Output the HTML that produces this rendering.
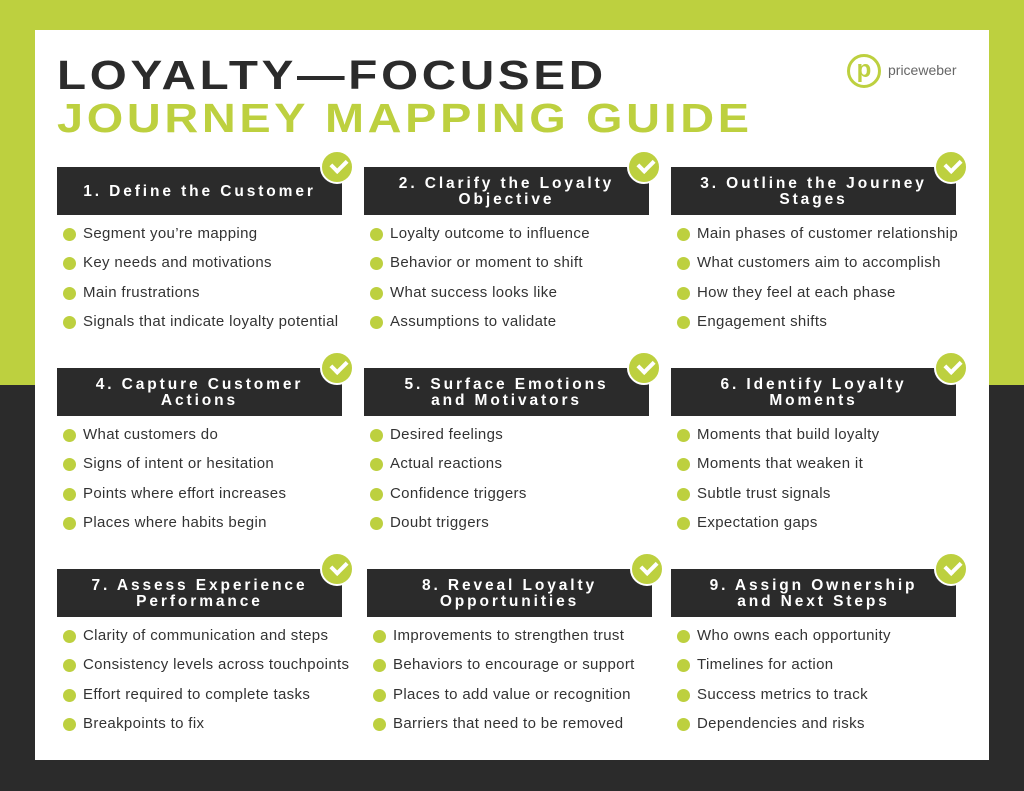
<!DOCTYPE html>
<html><head><style>
body{margin:0;width:1024px;height:791px;position:relative;overflow:hidden;font-family:"Liberation Sans",sans-serif;background:#2b2b2b}
.top{position:absolute;left:0;top:0;width:1024px;height:385px;background:#bdd03f}
.card{position:absolute;left:35px;top:30px;width:954px;height:730px;background:#fff}
.t{position:absolute;left:57px;font-weight:bold;font-size:41px;letter-spacing:3.2px;white-space:nowrap;line-height:1;transform-origin:0 0}
.h{position:absolute;width:285px;height:48px;background:#2b2b2b;color:#fff;font-weight:bold;font-size:15.5px;letter-spacing:2.9px;display:flex;align-items:center;justify-content:center;text-align:center;line-height:16px;padding-top:2px;box-sizing:border-box}
.ck{position:absolute;width:34px;height:34px;border-radius:50%;background:#bdd03f;border:2px solid #fff;box-sizing:border-box}
.ck:after{content:"";position:absolute;left:9px;top:7px;width:12px;height:7px;border-left:4px solid #fff;border-bottom:4px solid #fff;transform:rotate(-45deg)}
ul{position:absolute;margin:0;padding:0;list-style:none;font-size:15px;letter-spacing:0.35px;color:#333}
li{height:29.3px;line-height:16px;position:relative;padding-left:26px;white-space:nowrap}
li:before{content:"";position:absolute;left:6px;top:2px;width:13px;height:13px;border-radius:50%;background:#bdd03f}
</style></head><body>
<div class="top"></div>
<div class="card"></div>
<div class="t" style="top:55px;color:#2b2b2b;transform:scaleX(1.16)">LOYALTY—FOCUSED</div>
<div class="t" style="top:98px;color:#bdd03f;transform:scaleX(1.143)">JOURNEY MAPPING GUIDE</div>
<div style="position:absolute;left:847px;top:54px;width:34px;height:34px;border:3px solid #bdd03f;border-radius:50%;box-sizing:border-box;color:#bdd03f;font-weight:bold;font-size:24px;text-align:center;line-height:26px">p</div>
<div style="position:absolute;left:888px;top:62px;font-size:14px;color:#666">priceweber</div>

<div class="h" style="left:57px;top:167px">1. Define the Customer</div><div class="ck" style="left:320px;top:150px"></div>
<div class="h" style="left:364px;top:167px">2. Clarify the Loyalty<br>Objective</div><div class="ck" style="left:627px;top:150px"></div>
<div class="h" style="left:671px;top:167px">3. Outline the Journey<br>Stages</div><div class="ck" style="left:934px;top:150px"></div>
<div class="h" style="left:57px;top:368px">4. Capture Customer<br>Actions</div><div class="ck" style="left:320px;top:351px"></div>
<div class="h" style="left:364px;top:368px">5. Surface Emotions<br>and Motivators</div><div class="ck" style="left:627px;top:351px"></div>
<div class="h" style="left:671px;top:368px">6. Identify Loyalty<br>Moments</div><div class="ck" style="left:934px;top:351px"></div>
<div class="h" style="left:57px;top:569px">7. Assess Experience<br>Performance</div><div class="ck" style="left:320px;top:552px"></div>
<div class="h" style="left:367px;top:569px">8. Reveal Loyalty<br>Opportunities</div><div class="ck" style="left:630px;top:552px"></div>
<div class="h" style="left:671px;top:569px">9. Assign Ownership<br>and Next Steps</div><div class="ck" style="left:934px;top:552px"></div>

<ul style="left:57px;top:226px"><li>Segment you’re mapping</li><li>Key needs and motivations</li><li>Main frustrations</li><li>Signals that indicate loyalty potential</li></ul>
<ul style="left:364px;top:226px"><li>Loyalty outcome to influence</li><li>Behavior or moment to shift</li><li>What success looks like</li><li>Assumptions to validate</li></ul>
<ul style="left:671px;top:226px"><li>Main phases of customer relationship</li><li>What customers aim to accomplish</li><li>How they feel at each phase</li><li>Engagement shifts</li></ul>
<ul style="left:57px;top:427px"><li>What customers do</li><li>Signs of intent or hesitation</li><li>Points where effort increases</li><li>Places where habits begin</li></ul>
<ul style="left:364px;top:427px"><li>Desired feelings</li><li>Actual reactions</li><li>Confidence triggers</li><li>Doubt triggers</li></ul>
<ul style="left:671px;top:427px"><li>Moments that build loyalty</li><li>Moments that weaken it</li><li>Subtle trust signals</li><li>Expectation gaps</li></ul>
<ul style="left:57px;top:628px"><li>Clarity of communication and steps</li><li>Consistency levels across touchpoints</li><li>Effort required to complete tasks</li><li>Breakpoints to fix</li></ul>
<ul style="left:367px;top:628px"><li>Improvements to strengthen trust</li><li>Behaviors to encourage or support</li><li>Places to add value or recognition</li><li>Barriers that need to be removed</li></ul>
<ul style="left:671px;top:628px"><li>Who owns each opportunity</li><li>Timelines for action</li><li>Success metrics to track</li><li>Dependencies and risks</li></ul>
</body></html>
